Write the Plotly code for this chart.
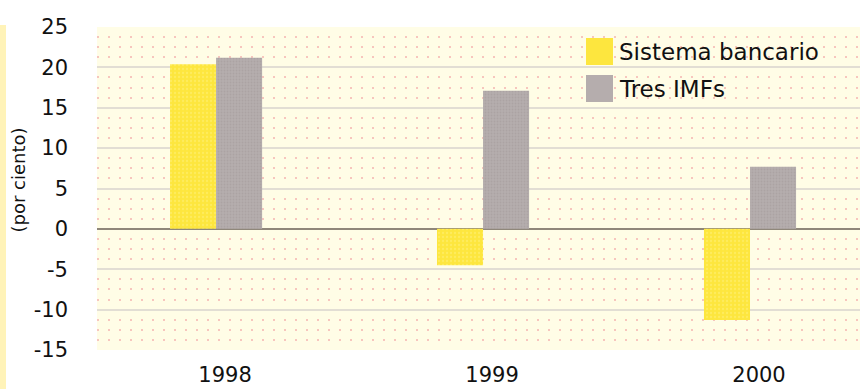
import plotly.graph_objects as go

# Annual variation (per cent) for the banking system vs. three IMFs
years = ["1998", "1999", "2000"]
series_names = ["Sistema bancario", "Tres IMFs"]
sistema_bancario = [20.4, -4.5, -11.3]
tres_imfs = [21.2, 17.1, 7.7]
y_ticks = [25, 20, 15, 10, 5, 0, -5, -10, -15]
y_title = "(por ciento)"

YELLOW = "#fde63e"
GREY = "#b5adad"
FONT = "DejaVu Sans"
INK = "#111111"

fig = go.Figure()
fig.add_trace(go.Bar(
    x=years, y=sistema_bancario, name=series_names[0],
    marker=dict(color=YELLOW, line=dict(width=0),
                pattern=dict(shape=".", fgcolor="#fff27c", size=4, solidity=0.25)),
))
fig.add_trace(go.Bar(
    x=years, y=tres_imfs, name=series_names[1],
    marker=dict(color=GREY, line=dict(width=0),
                pattern=dict(shape=".", fgcolor="#a29999", size=3, solidity=0.3)),
))

# Hand-drawn legend: big square swatches with text to the right
legend_colors = [YELLOW, GREY]
for i, (name, col) in enumerate(zip(series_names, legend_colors)):
    top = 38 + i * 37
    fig.add_shape(type="rect", xref="paper", yref="paper",
                  x0=(586 - 97) / 763, x1=(613 - 97) / 763,
                  y0=1 - (top + 27 - 27) / 323, y1=1 - (top - 27) / 323,
                  fillcolor=col, line=dict(width=0), layer="above")
    fig.add_annotation(text=name, xref="paper", yref="paper",
                       x=(617 - 97) / 763, y=1 - (top + 13.5 - 27) / 323,
                       xanchor="left", yanchor="middle", showarrow=False,
                       font=dict(family=FONT, size=23, color=INK))

# Thin yellow strip down the left edge of the page
fig.add_shape(type="rect", xref="paper", yref="paper",
              x0=-97 / 763, x1=-91 / 763, y0=-39 / 323, y1=1 + 2 / 323,
              fillcolor="#fff3b8", line=dict(width=0), layer="below")

# Rotated y-axis caption
fig.add_annotation(text=y_title, xref="paper", yref="paper",
                   x=-79 / 763, y=0.5, yshift=8, textangle=-90,
                   xanchor="center", yanchor="middle", showarrow=False,
                   font=dict(family=FONT, size=18, color=INK))

fig.update_layout(
    width=860, height=389,
    margin=dict(l=97, r=0, t=27, b=39),
    paper_bgcolor="white",
    plot_bgcolor="#fffde6",
    barmode="group",
    bargap=0.655,
    bargroupgap=0,
    showlegend=False,
    font=dict(family=FONT, size=21, color=INK),
)

fig.update_xaxes(
    type="category",
    range=[-0.446, 2.412],
    showgrid=False,
    zeroline=False,
    showline=False,
    ticks="",
    ticklabelstandoff=10,
    ticklabelshift=9,
    tickfont=dict(family=FONT, size=21, color=INK),
)

fig.update_yaxes(
    range=[-15, 25],
    tickvals=y_ticks,
    ticktext=[str(v) for v in y_ticks],
    showgrid=True,
    gridcolor="#e2ded4",
    gridwidth=1.5,
    zeroline=True,
    zerolinecolor="#8f877a",
    zerolinewidth=2,
    showline=False,
    ticks="",
    ticklabelstandoff=28,
    tickfont=dict(family=FONT, size=21, color=INK),
    minor=dict(dtick=1.25, showgrid=True, gridcolor="#f7c6be",
               gridwidth=1.6, griddash="2px,9px"),
)

fig.write_html("out.html")
